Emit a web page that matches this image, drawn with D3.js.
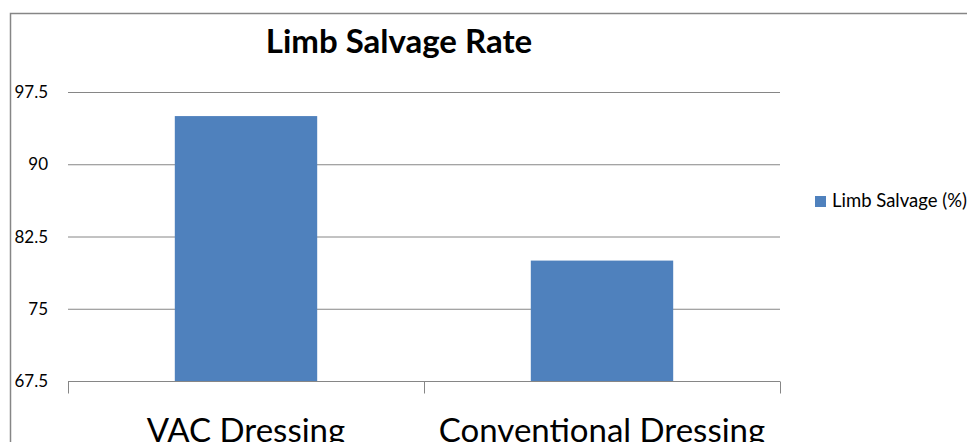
<!DOCTYPE html>
<html><head><meta charset="utf-8">
<script src="https://cdn.jsdelivr.net/npm/d3@7"></script>
<style>body{margin:0;background:#fff}svg{display:block}</style>
</head><body>
<svg id="c" width="967" height="442"></svg>
<script>
const categories = ["VAC Dressing", "Conventional Dressing"];
const values = [95, 80];
const yTicks = [67.5, 75, 82.5, 90, 97.5];
const seriesName = "Limb Salvage (%)";
const title = "Limb Salvage Rate";

const svg = d3.select("#c");
const font = "Lato, 'Open Sans', sans-serif";
const m = {left: 68, right: 780, top: 92, bottom: 381};

// outer border
svg.append("rect").attr("x", 10.5).attr("y", 13.5).attr("width", 1000).attr("height", 1000)
  .attr("fill", "none").attr("stroke", "#868686").attr("stroke-width", 1.5);

const x = d3.scaleBand().domain(categories).range([m.left, m.right]).paddingInner(0).paddingOuter(0);
const y = d3.scaleLinear().domain([67.5, 97.5]).range([m.bottom, m.top]);

// gridlines
svg.append("g").selectAll("line").data(yTicks.slice(1)).join("line")
  .attr("x1", m.left).attr("x2", m.right)
  .attr("y1", d => y(d) + 0.5).attr("y2", d => y(d) + 0.5)
  .attr("stroke", "#868686").attr("stroke-width", 1);

// bars
const bw = x.bandwidth() * 0.4;
svg.append("g").selectAll("rect").data(values).join("rect")
  .attr("x", (d, i) => x(categories[i]) + (x.bandwidth() - bw) / 2)
  .attr("width", bw)
  .attr("y", d => y(d))
  .attr("height", d => y(67.5) - y(d))
  .attr("fill", "#4F81BD");

// x axis
const xa = svg.append("g").attr("transform", `translate(0,${m.bottom + 0.5})`);
xa.append("line").attr("x1", m.left).attr("x2", m.right).attr("stroke", "#868686");
const edges = [m.left, ...categories.map(c => x(c) + x.bandwidth())];
xa.selectAll("line.t").data(edges).join("line").attr("class", "t")
  .attr("x1", d => d + 0.5).attr("x2", d => d + 0.5).attr("y1", 0).attr("y2", 12)
  .attr("stroke", "#868686");
xa.selectAll("text").data(categories).join("text")
  .attr("x", d => x(d) + x.bandwidth() / 2).attr("y", 60)
  .attr("text-anchor", "middle").attr("font-family", font).attr("font-size", 33)
  .attr("fill", "#000").text(d => d);

// y tick labels
svg.append("g").selectAll("text").data(yTicks).join("text")
  .attr("x", 48).attr("y", d => y(d) + 6)
  .attr("text-anchor", "end").attr("font-family", font).attr("font-size", 17)
  .attr("fill", "#000").text(d => d);

// title
svg.append("text").attr("x", 399).attr("y", 53).attr("text-anchor", "middle")
  .attr("font-family", font).attr("font-weight", "bold").attr("font-size", 33)
  .attr("fill", "#000").text(title);

// legend
svg.append("rect").attr("x", 815).attr("y", 196).attr("width", 11).attr("height", 11).attr("fill", "#4F81BD");
svg.append("text").attr("x", 832).attr("y", 207).attr("font-family", font).attr("font-size", 18.5)
  .attr("fill", "#000").text(seriesName);
</script>
</body></html>
